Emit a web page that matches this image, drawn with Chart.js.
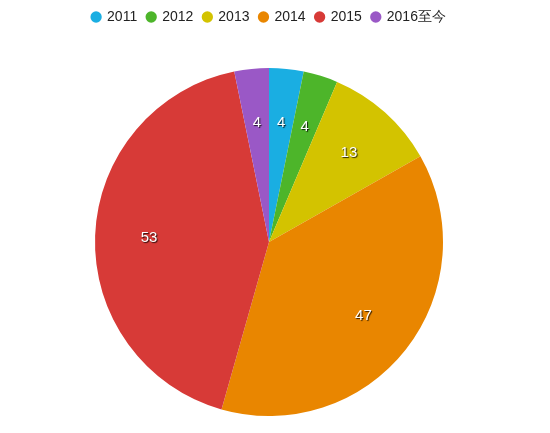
<!DOCTYPE html>
<html><head><meta charset="utf-8">
<script src="https://cdn.jsdelivr.net/npm/chart.js@4"></script>
<style>html,body{margin:0;padding:0;background:#fff}#w{width:550px;height:433px}</style>
</head><body><div id="w"><canvas id="c"></canvas></div>
<script>
const categories = ['2011','2012','2013','2014','2015','2016至今'];
const values = [4,4,13,47,53,4];
const colors = ['#1aaee2','#4db52a','#d3c300','#e98600','#d73a37','#9a58c6'];
const labelPlugin = {
  id:'lbl',
  beforeInit(chart){
    const lg=chart.legend; const f=lg.fit;
    lg.fit=function(){f.call(this); this.height=68;};
  },
  afterDatasetsDraw(chart){
    const ctx=chart.ctx;
    chart.getDatasetMeta(0).data.forEach((arc,i)=>{
      const p=arc.getProps(['x','y','startAngle','endAngle','outerRadius'],true);
      const a=(p.startAngle+p.endAngle)/2, r=p.outerRadius*0.69;
      ctx.save();
      ctx.font='15px "Liberation Sans", Arial, sans-serif';
      ctx.fillStyle='#fff';ctx.textAlign='center';ctx.textBaseline='middle';
      ctx.shadowColor='rgba(0,0,0,0.8)';ctx.shadowOffsetX=1;ctx.shadowOffsetY=1;ctx.shadowBlur=1;
      ctx.fillText(String(values[i]),p.x+Math.cos(a)*r,p.y+Math.sin(a)*r);
      ctx.restore();
    });
  }
};
new Chart(document.getElementById('c'),{
  type:'pie',
  data:{labels:categories,datasets:[{data:values,backgroundColor:colors,borderColor:'#fff',borderWidth:0}]},
  options:{
    responsive:true,maintainAspectRatio:false,animation:false,
    layout:{padding:{top:0,bottom:17,left:0,right:12}},
    plugins:{
      tooltip:{enabled:false},
      legend:{position:'top',labels:{usePointStyle:true,pointStyle:'circle',boxWidth:8,boxHeight:8,padding:10,color:'#222',font:{size:14,family:'"Liberation Sans", Arial, sans-serif'}}}
    }
  },
  plugins:[labelPlugin]
});
</script></body></html>
